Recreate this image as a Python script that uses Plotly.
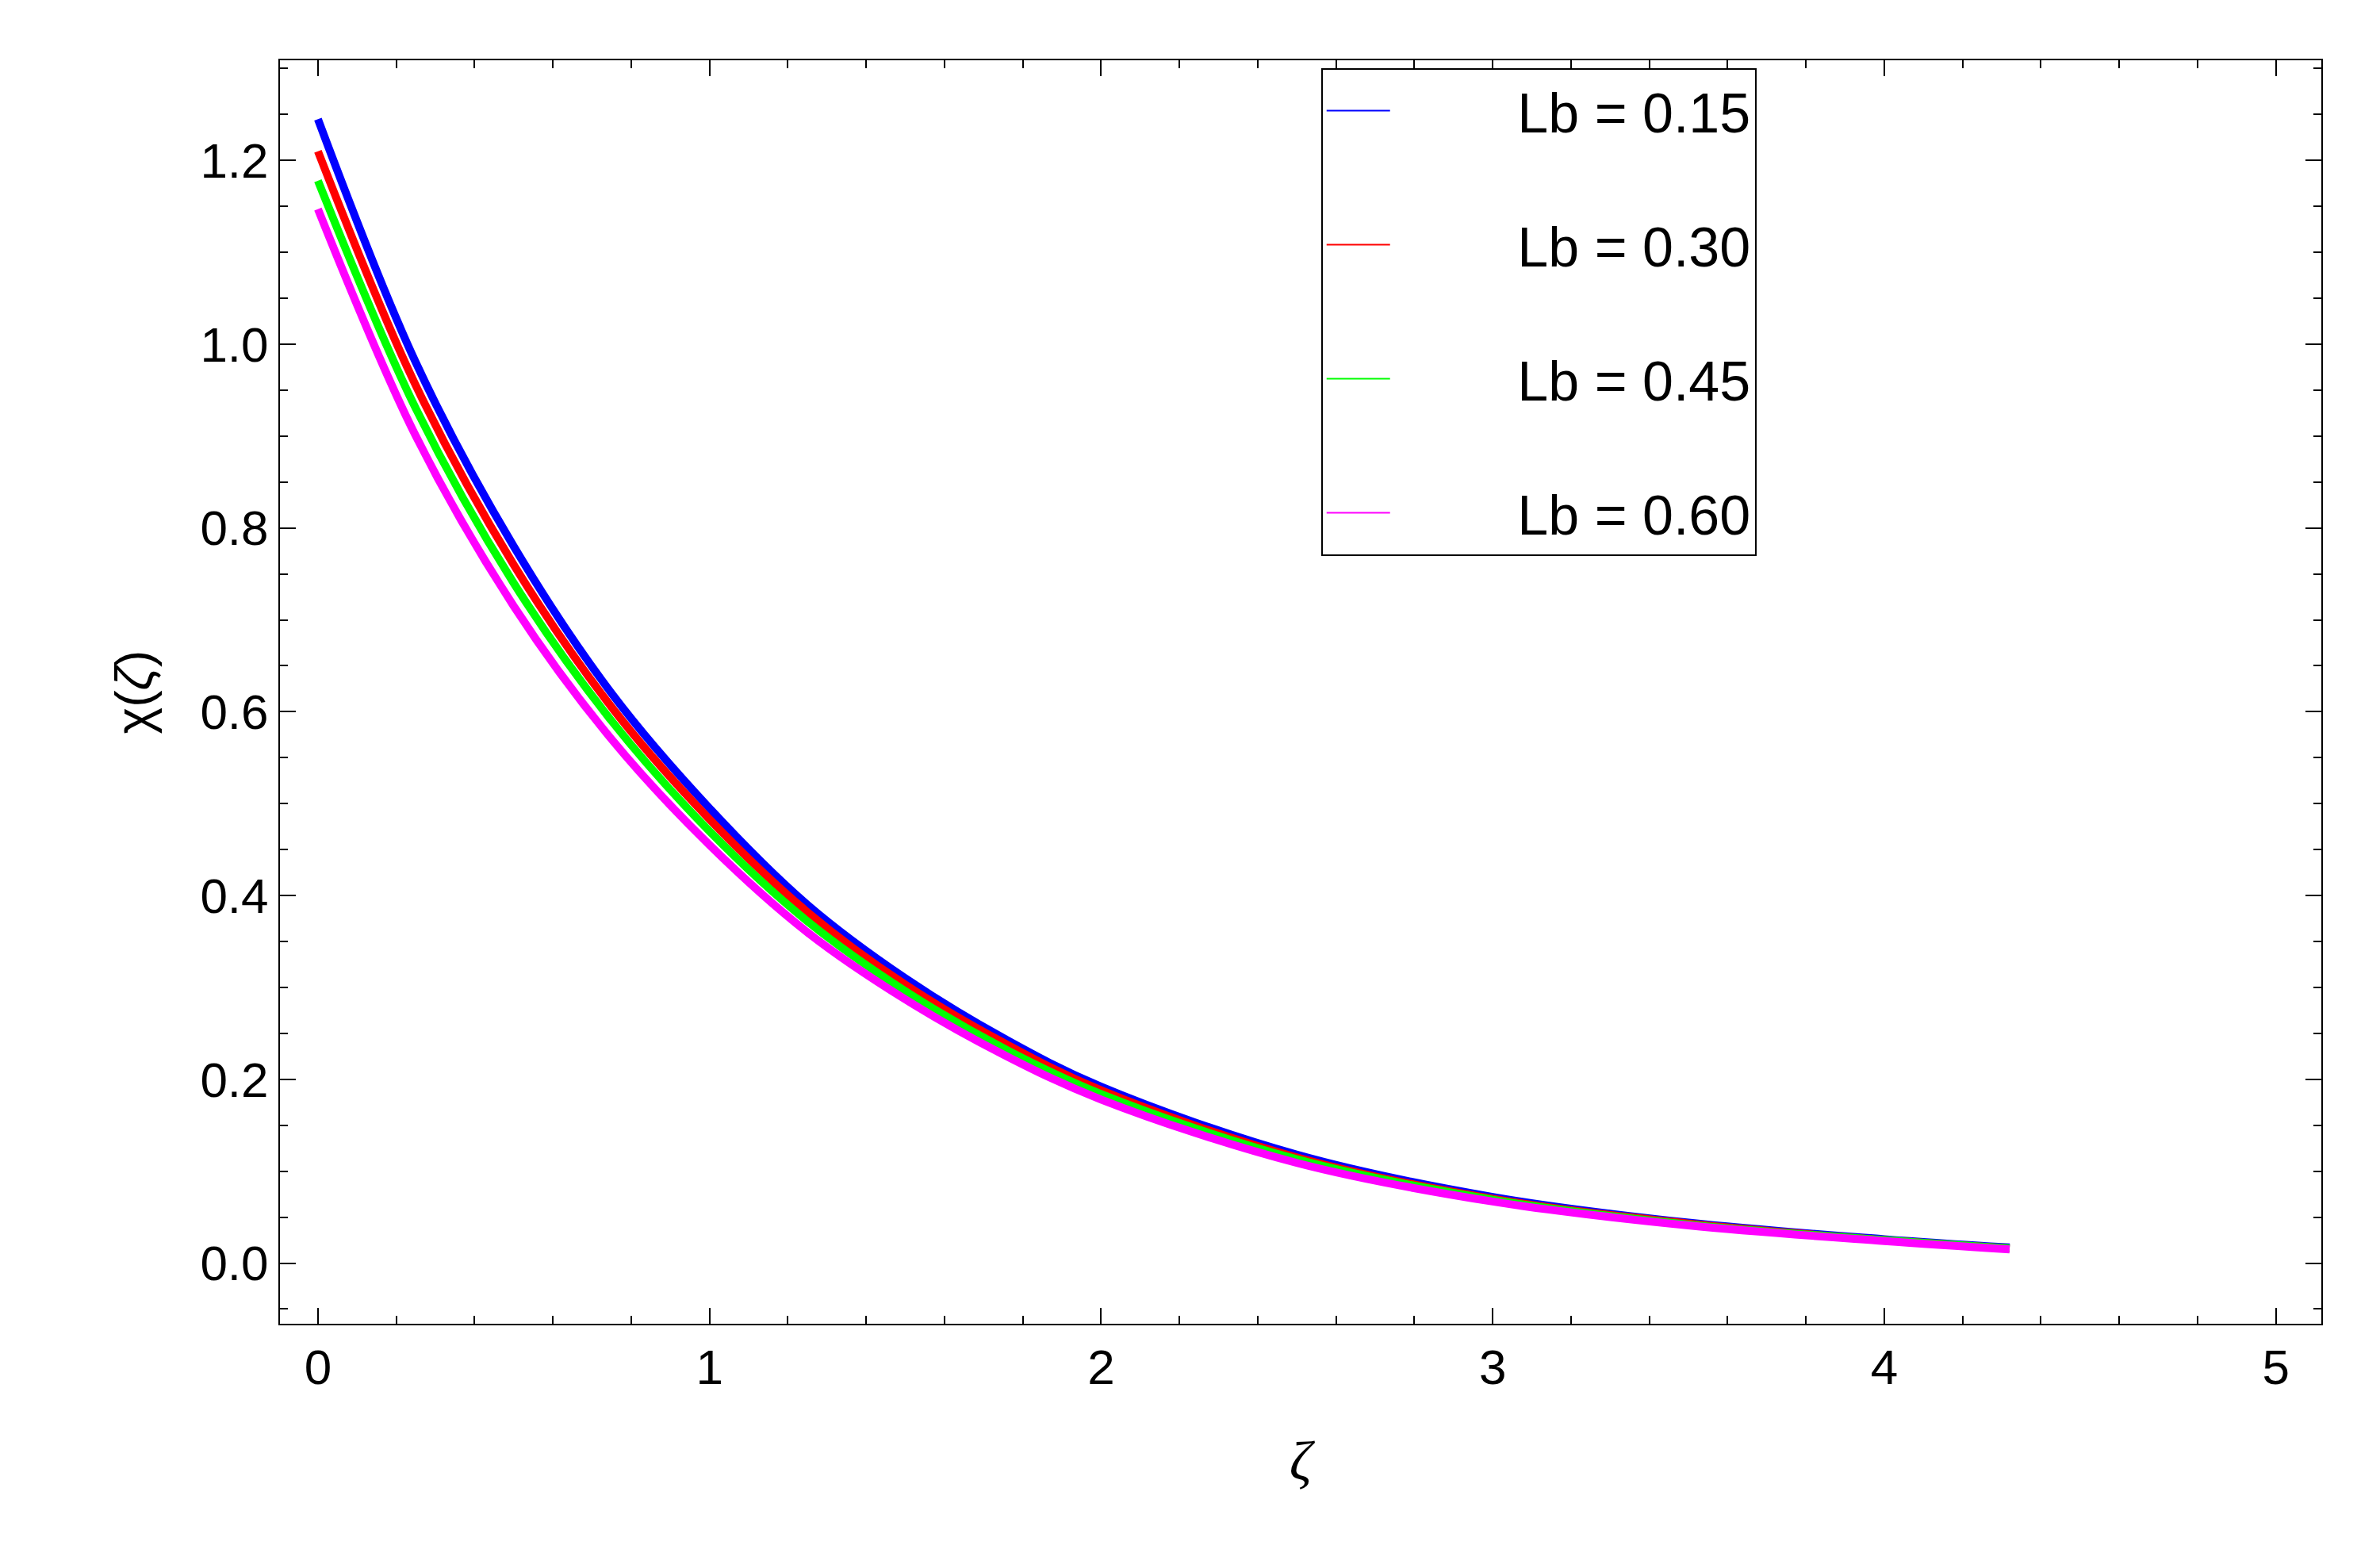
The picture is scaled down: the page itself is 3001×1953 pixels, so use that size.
import plotly.graph_objects as go

x = [0,0.25,0.5,0.75,1,1.25,1.5,1.75,2,2.5,3,3.5,4,4.32]
blue = [1.245,0.98,0.78,0.62,0.495,0.39,0.31,0.245,0.192,0.118,0.072,0.044,0.026,0.017]
red = [1.21,0.955,0.76,0.605,0.483,0.382,0.303,0.24,0.188,0.115,0.07,0.043,0.025,0.016]
green = [1.178,0.93,0.74,0.59,0.47,0.372,0.296,0.234,0.184,0.113,0.069,0.042,0.025,0.016]
magenta = [1.147,0.9,0.715,0.57,0.455,0.36,0.287,0.227,0.178,0.109,0.067,0.041,0.024,0.015]
names = ["Lb = 0.15","Lb = 0.30","Lb = 0.45","Lb = 0.60"]
colors = ["#0000ff","#ff0000","#00ff00","#ff00ff"]

fig = go.Figure()
for ys, n, c in zip([blue, red, green, magenta], names, colors):
    fig.add_trace(go.Scatter(x=x, y=ys, name=n, mode="lines", showlegend=False,
                             line=dict(color=c, width=10, shape="spline")))
for i, (n, c) in enumerate(zip(names, colors)):
    fig.add_trace(go.Scatter(x=[None], y=[None], name="        " + n, mode="lines",
                             legendgroup=str(i), line=dict(color=c, width=2)))

ax = dict(showline=True, linecolor="black", linewidth=2, mirror="ticks", ticks="inside",
          ticklen=20, tickwidth=2, tickcolor="black", showgrid=False, zeroline=False,
          tickfont=dict(family="Liberation Sans", size=62, color="black"),
          minor=dict(ticks="inside", ticklen=10, tickwidth=2, tickcolor="black"))
fig.update_xaxes(**ax, range=[-0.097, 5.116], tickvals=[0,1,2,3,4,5], minor_dtick=0.2,
                 title=dict(text="<i>ζ</i>", font=dict(family="Liberation Serif", size=70, color="black"), standoff=60))
fig.update_yaxes(**ax, range=[-0.066, 1.309], tickvals=[0,0.2,0.4,0.6,0.8,1.0,1.2],
                 tickformat=".1f", minor_dtick=0.05,
                 title=dict(text="χ(<i>ζ</i>)", font=dict(family="Liberation Sans", size=64, color="black"), standoff=40))
fig.update_layout(width=3001, height=1953, paper_bgcolor="white", plot_bgcolor="white",
                  margin=dict(l=345, r=82, t=68, b=292),
                  legend=dict(x=0.51, y=0.994, xanchor="left", yanchor="top",
                              bordercolor="black", borderwidth=2, bgcolor="white",
                              font=dict(family="Liberation Sans", size=70, color="black"),
                              tracegroupgap=75, itemwidth=80))
fig.write_html("out.html")
